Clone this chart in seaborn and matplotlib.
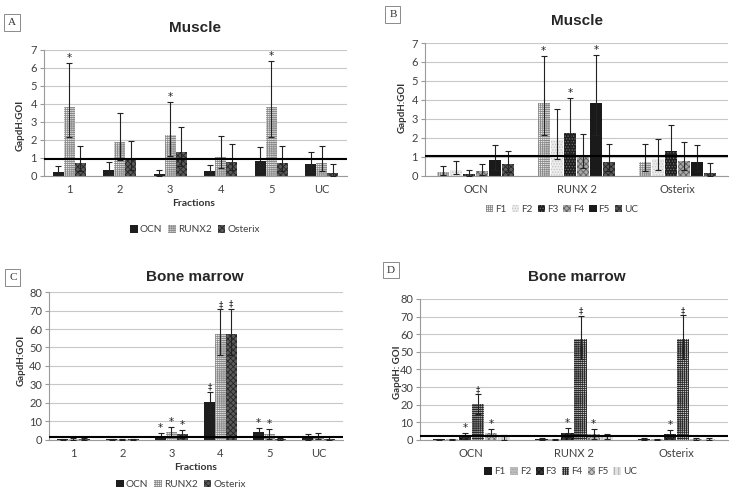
import numpy as np
import pandas as pd
import seaborn as sns
import matplotlib.pyplot as plt
from matplotlib.patches import Patch

fractions = ['1', '2', '3', '4', '5', 'UC']
genes = ['OCN', 'RUNX2', 'Osterix']
gene_ticks = ['OCN', 'RUNX 2', 'Osterix']
frac_names = ['F1', 'F2', 'F3', 'F4', 'F5', 'UC']

# muscle: bar heights, upper and lower ends of the error bars
ocn_mus = [0.20, 0.33, 0.09, 0.26, 0.83, 0.65]
ocn_mus_top = [0.55, 0.80, 0.32, 0.63, 1.61, 1.31]
ocn_mus_bot = [0.05, 0.10, 0.00, 0.05, 0.30, 0.20]
runx2_mus = [3.85, 1.87, 2.28, 1.04, 3.85, 0.72]
runx2_mus_top = [6.30, 3.52, 4.13, 2.20, 6.37, 1.68]
runx2_mus_bot = [2.17, 0.89, 1.13, 0.44, 2.18, 0.28]
osx_mus = [0.72, 0.89, 1.33, 0.78, 0.72, 0.18]
osx_mus_top = [1.68, 1.93, 2.70, 1.80, 1.65, 0.67]
osx_mus_bot = [0.28, 0.33, 0.57, 0.32, 0.28, 0.02]
ocn_mus_mark = ['', '', '', '', '', '']
runx2_mus_mark = ['*', '', '*', '', '*', '']
osx_mus_mark = ['', '', '', '', '', '']

# bone marrow
ocn_bm = [0.3, 0.4, 2.0, 20.3, 4.2, 1.6]
ocn_bm_top = [0.6, 0.7, 3.7, 26.2, 6.4, 3.1]
ocn_bm_bot = [0.0, 0.1, 0.3, 14.5, 2.0, 0.1]
runx2_bm = [0.6, 0.4, 4.2, 57.2, 3.2, 2.0]
runx2_bm_top = [1.2, 0.8, 6.8, 70.6, 6.1, 3.6]
runx2_bm_bot = [0.0, 0.0, 1.6, 45.8, 0.3, 0.4]
osx_bm = [0.5, 0.3, 3.2, 57.5, 0.3, 0.8]
osx_bm_top = [1.0, 0.8, 5.4, 71.0, 0.9, 1.4]
osx_bm_bot = [0.0, 0.0, 1.0, 46.0, 0.0, 0.2]
ocn_bm_mark = ['', '', '*', '\u2021', '*', '']
runx2_bm_mark = ['', '', '*', '\u2021', '*', '']
osx_bm_mark = ['', '', '*', '\u2021', '', '']

# reference lines
line_a, line_b, line_c, line_d = 0.97, 1.07, 1.5, 2.5

sns.set_theme(style='white')
plt.rcParams['font.family'] = ['Lato', 'DejaVu Sans']
plt.rcParams['hatch.linewidth'] = 0.6

# (face, hatch, hatch colour)
gene_style = [('#1e1e1e', '', '#1e1e1e'),
              ('#f4f4f4', '++++++++', '#8c8c8c'),
              ('#5a5a5a', 'xxxxxx', '#262626')]
mus_frac_style = [('#f4f4f4', '++++++++', '#8c8c8c'),
                  ('#ececec', '......', '#c4c4c4'),
                  ('#1e1e1e', '......', '#707070'),
                  ('#a8a8a8', 'xxxxxx', '#606060'),
                  ('#1a1a1a', '', '#1a1a1a'),
                  ('#5a5a5a', 'xxxxxx', '#262626')]
bm_frac_style = [('#1a1a1a', '', '#1a1a1a'),
                 ('#bdbdbd', '......', '#a0a0a0'),
                 ('#3a3a3a', 'xxxxxx', '#111111'),
                 ('#d0d0d0', '++++++++', '#2a2a2a'),
                 ('#c4c4c4', 'xxxxxx', '#707070'),
                 ('#e2e2e2', '||||', '#a8a8a8')]
mark_size = {'*': 7.5, '\u2021': 6}


def panel(ax, groups, ticks, series, vals, tops, bots, marks, styles, width, gap, ymax, ystep, line):
    rows = []
    for s, v in zip(series, vals):
        for g, y in zip(groups, v):
            rows.append((g, s, y))
    df = pd.DataFrame(rows, columns=['group', 'series', 'value'])
    sns.barplot(data=df, x='group', y='value', hue='series', order=groups, hue_order=series,
                errorbar=None, width=width, gap=gap, saturation=1, legend=False, ax=ax,
                palette=[st[0] for st in styles])
    for cont, (face, hatch, hc), v, t, b, m in zip(ax.containers, styles, vals, tops, bots, marks):
        xs = []
        for bar in cont:
            bar.set_facecolor(face)
            bar.set_hatch(hatch)
            bar.set_edgecolor(hc)
            bar.set_linewidth(0)
            xs.append(bar.get_x() + bar.get_width() / 2)
        v = np.array(v); t = np.array(t); b = np.array(b)
        ax.errorbar(xs, v, yerr=[v - b, t - v], fmt='none', ecolor='#222222',
                    elinewidth=0.8, capsize=2, capthick=0.8, zorder=3)
        for x, top, mk in zip(xs, t, m):
            if mk:
                ax.annotate(mk, (x, top), xytext=(0, 0), textcoords='offset points',
                            ha='center', va='bottom', fontsize=mark_size[mk], color='#222222',
                            family='DejaVu Sans')
    ax.axhline(line, color='black', lw=1.5, zorder=4)
    n = len(groups)
    ax.set_xlim(-0.5, n - 0.5)
    ax.set_ylim(0, ymax)
    ax.set_yticks(np.arange(0, ymax + 0.01, ystep))
    ax.set_xticks(range(n))
    ax.set_xticklabels(ticks)
    ax.set_xticks(np.arange(-0.5, n), minor=True)
    ax.yaxis.grid(True, color='#c8c8c8', lw=0.8)
    ax.set_axisbelow(True)
    for s in ['top', 'right']:
        ax.spines[s].set_visible(False)
    for s in ['left', 'bottom']:
        ax.spines[s].set_color('#9a9a9a')
        ax.spines[s].set_linewidth(0.8)
    ax.tick_params(axis='x', which='major', length=0, pad=6, labelsize=8, labelcolor='#404040')
    ax.tick_params(axis='x', which='minor', length=4, width=0.8, color='#9a9a9a', direction='out')
    ax.tick_params(axis='y', length=3, width=0.8, color='#9a9a9a', labelsize=8,
                   labelcolor='#404040', pad=2, left=True)
    ax.set_xlabel('')
    ax.set_ylabel('')


def transpose(*rows):
    return [list(c) for c in zip(*rows)]


fig = plt.figure(figsize=(7.33, 4.92), dpi=100)
axA = fig.add_axes([0.0600, 0.6423, 0.4134, 0.2561])
axB = fig.add_axes([0.5798, 0.6423, 0.4134, 0.2703])
axC = fig.add_axes([0.0668, 0.1057, 0.4011, 0.3008])
axD = fig.add_axes([0.5730, 0.1057, 0.4202, 0.2866])

mus = [ocn_mus, runx2_mus, osx_mus]
mus_top = [ocn_mus_top, runx2_mus_top, osx_mus_top]
mus_bot = [ocn_mus_bot, runx2_mus_bot, osx_mus_bot]
mus_mark = [ocn_mus_mark, runx2_mus_mark, osx_mus_mark]
bm = [ocn_bm, runx2_bm, osx_bm]
bm_top = [ocn_bm_top, runx2_bm_top, osx_bm_top]
bm_bot = [ocn_bm_bot, runx2_bm_bot, osx_bm_bot]
bm_mark = [ocn_bm_mark, runx2_bm_mark, osx_bm_mark]

panel(axA, fractions, fractions, genes, mus, mus_top, mus_bot, mus_mark,
      gene_style, 0.65, 0, 7, 1, line_a)
panel(axB, genes, gene_ticks, frac_names, transpose(*mus), transpose(*mus_top),
      transpose(*mus_bot), transpose(*mus_mark), mus_frac_style, 0.78, 0.08, 7, 1, line_b)
panel(axC, fractions, fractions, genes, bm, bm_top, bm_bot, bm_mark,
      gene_style, 0.66, 0, 80, 10, line_c)
panel(axD, genes, gene_ticks, frac_names, transpose(*bm), transpose(*bm_top),
      transpose(*bm_bot), transpose(*bm_mark), bm_frac_style, 0.76, 0.05, 80, 10, line_d)

title_kw = dict(family='Liberation Sans', fontsize=11, fontweight='bold', ha='center', va='center')
fig.text(0.266, 0.943, 'Muscle', **title_kw)
fig.text(0.787, 0.957, 'Muscle', **title_kw)
fig.text(0.266, 0.438, 'Bone marrow', **title_kw)
fig.text(0.787, 0.436, 'Bone marrow', **title_kw)

lab_kw = dict(fontsize=7, fontweight='bold', rotation=90, ha='center', va='center', color='#333333')
fig.text(20.5 / 733, 1 - 125 / 492, 'GapdH:GOI', **lab_kw)
fig.text(402 / 733, 1 - 107 / 492, 'GapdH:GOI', **lab_kw)
fig.text(21.5 / 733, 1 - 360 / 492, 'GapdH:GOI', **lab_kw)
fig.text(397 / 733, 1 - 372 / 492, 'GapdH: GOI', **lab_kw)

xl_kw = dict(fontsize=7.5, fontweight='bold', ha='center', va='center', color='#333333')
fig.text(194 / 733, 1 - 203 / 492, 'Fractions', **xl_kw)
fig.text(196 / 733, 1 - 467 / 492, 'Fractions', **xl_kw)

box_kw = dict(family='Liberation Serif', fontsize=8, ha='center', va='center', color='#333333',
              bbox=dict(boxstyle='square,pad=0.35', fc='white', ec='#777777', lw=0.6))
fig.text(0.0168, 0.9547, 'A', **box_kw)
fig.text(0.5360, 0.9710, 'B', **box_kw)
fig.text(0.0175, 0.4364, 'C', **box_kw)
fig.text(0.5334, 0.4512, 'D', **box_kw)


def handles(styles, names):
    return [Patch(facecolor=f, hatch=h, edgecolor=c, linewidth=0, label=n)
            for (f, h, c), n in zip(styles, names)]


leg_kw = dict(loc='center', frameon=False, fontsize=7.2, handlelength=0.75, handleheight=0.75,
              handletextpad=0.2, labelcolor='#404040')
fig.legend(handles=handles(gene_style, genes), ncol=3, columnspacing=0.6,
           bbox_to_anchor=(0.266, 0.533), **leg_kw)
fig.legend(handles=handles(mus_frac_style, frac_names), ncol=6, columnspacing=0.5,
           bbox_to_anchor=(0.767, 0.575), **leg_kw)
fig.legend(handles=handles(gene_style, genes), ncol=3, columnspacing=0.6,
           bbox_to_anchor=(0.247, 0.016), **leg_kw)
fig.legend(handles=handles(bm_frac_style, frac_names), ncol=6, columnspacing=0.5,
           bbox_to_anchor=(0.765, 0.041), **leg_kw)

fig.savefig('out.png', dpi=100)
